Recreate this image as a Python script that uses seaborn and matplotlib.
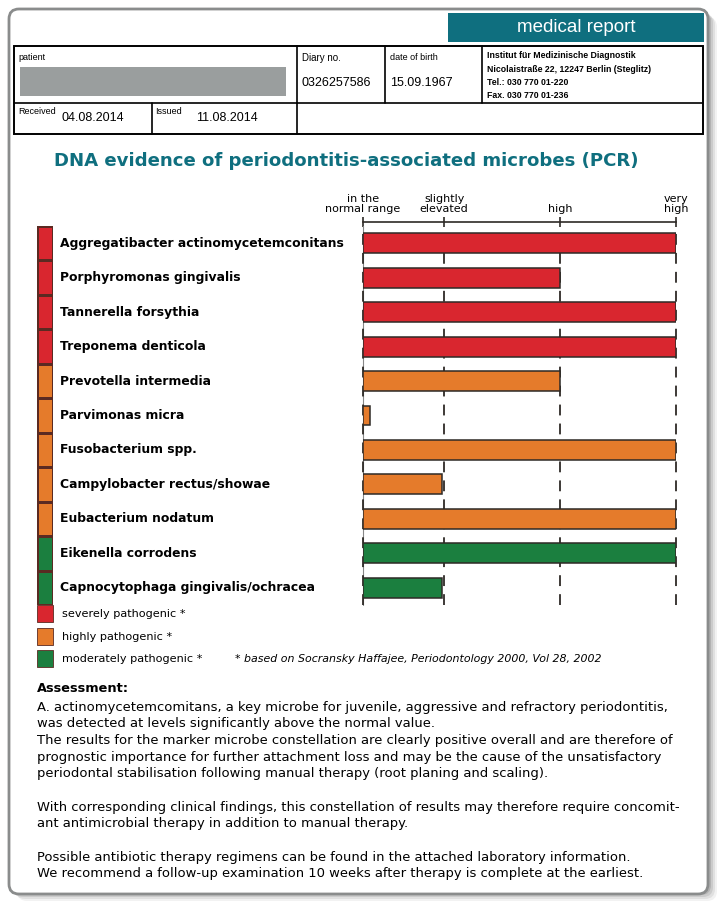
import seaborn as sns
import matplotlib.pyplot as plt
import matplotlib.transforms as mtrans
from matplotlib.patches import FancyBboxPatch, Rectangle
from matplotlib.colors import ListedColormap
import numpy as np
import pandas as pd

# --- data -----------------------------------------------------------------
microbes = ['Aggregatibacter actinomycetemconitans', 'Porphyromonas gingivalis',
            'Tannerella forsythia', 'Treponema denticola', 'Prevotella intermedia',
            'Parvimonas micra', 'Fusobacterium spp.', 'Campylobacter rectus/showae',
            'Eubacterium nodatum', 'Eikenella corrodens',
            'Capnocytophaga gingivalis/ochracea']
# level score on the report scale (0 = normal, 0.7 = slightly elevated, 1.7 = high, 2.7 = very high)
values = [2.7, 1.7, 2.7, 2.7, 1.7, 0.06, 2.7, 0.68, 2.7, 2.7, 0.68]
groups = ['severely', 'severely', 'severely', 'severely', 'highly', 'highly', 'highly',
          'highly', 'highly', 'moderately', 'moderately']
level_pos = [0, 0.7, 1.7, 2.7]
level_labels = ['in the\nnormal range', 'slightly\nelevated', 'high', 'very\nhigh']
legend_names = ['severely pathogenic *', 'highly pathogenic *', 'moderately pathogenic *']
group_keys = ['severely', 'highly', 'moderately']
palette = {'severely': '#d9262f', 'highly': '#e57b2b', 'moderately': '#1b7f3f'}

assessment = [
    'A. actinomycetemcomitans, a key microbe for juvenile, aggressive and refractory periodontitis,',
    'was detected at levels significantly above the normal value.',
    'The results for the marker microbe constellation are clearly positive overall and are therefore of',
    'prognostic importance for further attachment loss and may be the cause of the unsatisfactory',
    'periodontal stabilisation following manual therapy (root planing and scaling).',
    '',
    'With corresponding clinical findings, this constellation of results may therefore require concomit-',
    'ant antimicrobial therapy in addition to manual therapy.',
    '',
    'Possible antibiotic therapy regimens can be found in the attached laboratory information.',
    'We recommend a follow-up examination 10 weeks after therapy is complete at the earliest.',
]

df = pd.DataFrame({'microbe': microbes, 'value': values, 'group': groups})

W, H = 723, 910
TEAL = '#0f6f7f'
DARK = '#2e2a26'
narrow = ['Liberation Sans Narrow', 'Liberation Sans', 'DejaVu Sans']
body = ['DejaVu Sans']

sns.set_style('white')
plt.rcParams['font.family'] = body
plt.rcParams['text.color'] = 'black'
plt.rcParams['xtick.color'] = 'black'

fig = plt.figure(figsize=(W / 100, H / 100), dpi=100)

# page canvas in pixel coordinates
bg = fig.add_axes([0, 0, 1, 1])
bg.set_xlim(0, W)
bg.set_ylim(H, 0)
bg.axis('off')

# shadow + rounded frame
for k, a in enumerate([0.05, 0.07, 0.09, 0.12]):
    off = 8 - 2 * k
    bg.add_patch(FancyBboxPatch((9 + off, 9 + off), 700, 884, boxstyle='round,pad=0,rounding_size=10',
                                fc='#000000', ec='none', alpha=a))
bg.add_patch(FancyBboxPatch((9, 9), 699, 885, boxstyle='round,pad=0,rounding_size=10',
                            fc='white', ec='#8a8c8c', lw=2))

# header banner
bg.add_patch(Rectangle((448, 13), 256, 29, fc=TEAL, ec='none'))
bg.text(576, 28, 'medical report', color='white', fontsize=13.5, ha='center', va='center',
        family=narrow)

# header table
bg.add_patch(Rectangle((14, 46), 689, 88, fc='none', ec='black', lw=1.4))
bg.plot([14, 703], [103, 103], color='black', lw=1.2)
for x in [297, 385, 482]:
    bg.plot([x, x], [46, 103], color='black', lw=1.2)
for x in [152, 297]:
    bg.plot([x, x], [103, 134], color='black', lw=1.2)
bg.add_patch(Rectangle((20, 67), 266, 29, fc='#9a9e9e', ec='none'))
bg.text(18, 58, 'patient', fontsize=6.5, va='center', family=narrow)
bg.text(302, 58, 'Diary no.', fontsize=7, va='center', family=narrow)
bg.text(302, 83, '0326257586', fontsize=9, va='center', family=narrow)
bg.text(390, 58, 'date of birth', fontsize=6.5, va='center', family=narrow)
bg.text(390, 83, '15.09.1967', fontsize=9, va='center', family=narrow)
inst = ['Institut für Medizinische Diagnostik', 'Nicolaistraße 22, 12247 Berlin (Steglitz)',
        'Tel.: 030 770 01-220', 'Fax. 030 770 01-236']
for i, line in enumerate(inst):
    bg.text(487, 56 + i * 13.3, line, fontsize=6.3, va='center', family=narrow, fontweight='bold')
bg.text(18, 112, 'Received', fontsize=6.5, va='center', family=narrow)
bg.text(62, 118, '04.08.2014', fontsize=9, va='center', family=narrow)
bg.text(155, 112, 'Issued', fontsize=6.5, va='center', family=narrow)
bg.text(196, 118, '11.08.2014', fontsize=9, va='center', family=narrow)

# title
bg.text(346, 161, 'DNA evidence of periodontitis-associated microbes (PCR)', color=TEAL,
        fontsize=13.1, fontweight='bold', ha='center', va='center')

# --- bar chart ---------------------------------------------------------------
top_px, bot_px = 226, 605
x0_px, x1_px = 363, 676
ax = fig.add_axes([x0_px / W, 1 - bot_px / H, (x1_px - x0_px) / W, (bot_px - top_px) / H])
sns.barplot(data=df, x='value', y='microbe', hue='group', palette=palette, dodge=False,
            saturation=1, width=0.58, edgecolor=DARK, linewidth=1.1, legend=False, ax=ax,
            zorder=3)
ax.set_xlim(0, 2.7)
ax.set_ylim(len(microbes) - 0.5, -0.5)
ax.set_xlabel('')
ax.set_ylabel('')
ax.set_yticks([])
for s in ['left', 'right', 'bottom']:
    ax.spines[s].set_visible(False)
ax.spines['top'].set_position(('outward', 3))
ax.spines['top'].set_color(DARK)
ax.spines['top'].set_linewidth(1.2)
ax.xaxis.tick_top()
ax.set_xticks(level_pos)
ax.set_xticklabels(level_labels, fontsize=8, linespacing=1.05)
ax.tick_params(axis='x', direction='inout', length=7, width=1.2, color=DARK, pad=2)
ax.axvline(0, color='#888888', lw=0.8, zorder=1, clip_on=False)
for p in level_pos:
    ax.axvline(p, color=DARK, lw=1.3, ls=(0, (6, 4.5)), zorder=2, clip_on=False)
ax.patch.set_alpha(0)

# microbe names
tr = mtrans.blended_transform_factory(bg.transData, ax.transData)
for i, name in enumerate(microbes):
    ax.text(60, i, name, transform=tr, fontsize=8.9, fontweight='bold', va='center',
            ha='left', clip_on=False)

# colour strip for pathogenicity group
sax = fig.add_axes([37 / W, 1 - bot_px / H, 16 / W, (bot_px - top_px) / H])
codes = np.array([group_keys.index(g) for g in groups]).reshape(-1, 1)
sns.heatmap(codes, cmap=ListedColormap([palette[k] for k in group_keys]), vmin=-0.5, vmax=2.5,
            cbar=False, linewidths=0.8, linecolor='#5a2a22', ax=sax, xticklabels=False,
            yticklabels=False)

# legend
for i, (k, name) in enumerate(zip(group_keys, legend_names)):
    y = 605 + i * 22.5
    bg.add_patch(Rectangle((37, y), 16, 17, fc=palette[k], ec='#5a2a22', lw=0.6))
    bg.text(62, y + 9, name, fontsize=8.1, va='center')
bg.text(235, 659, '* based on Socransky Haffajee, Periodontology 2000, Vol 28, 2002',
        fontsize=7.9, style='italic', va='center')

# assessment text
bg.text(37, 689, 'Assessment:', fontsize=9.3, fontweight='bold', va='center')
for i, line in enumerate(assessment):
    bg.text(37, 707 + i * 16.7, line, fontsize=9.45, va='center')

fig.savefig('out.png', dpi=100)
